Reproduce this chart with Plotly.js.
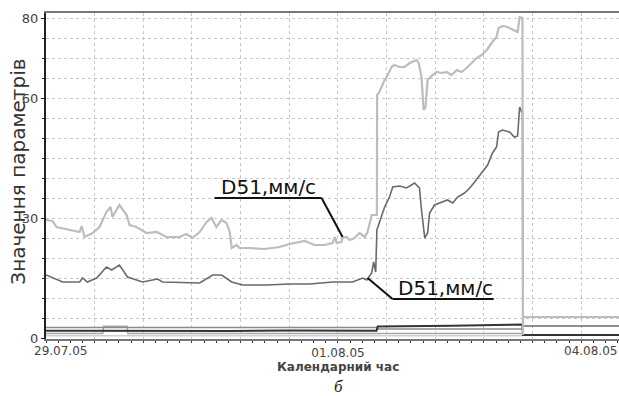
<!DOCTYPE html>
<html>
<head>
<meta charset="utf-8">
<script src="https://cdn.plot.ly/plotly-3.0.1.min.js"></script>
<style>html,body{margin:0;padding:0;background:#fff;overflow:hidden}#chart{width:619px;height:396px}</style>
</head>
<body>
<div id="chart"></div>
<script>
// time in hours since 29.07.05 00:00
const lightT = [0,1.6,2.6,5.8,8.3,8.8,9.5,11.5,13.2,14.9,15.9,16.4,18.1,19.9,20.6,22.3,24.8,27.3,29.7,32.9,34.6,36.1,37.9,39.6,40.8,42.0,43.3,44.5,45.3,45.8,47.0,47.7,50.2,53.9,57.6,60.1,63.8,66.2,68.7,70.7,71.2,71.7,72.9,73.1,74.1,74.9,76.1,77.3,78.6,79.3,80.3,81.3,81.6,81.65,82.1,83.5,84.3,85.2,85.9,87.2,88.4,89.7,90.4,91.4,91.9,92.6,93.1,93.6,94.1,95.3,96.3,97.6,98.8,100.0,101.3,102.5,103.7,105.0,106.2,107.4,108.7,109.9,111.1,111.6,112.6,113.8,115.1,116.3,116.8,117.3,117.5,117.6,117.65,141.3];
const lightV = [29.65,29.4,27.9,27.15,26.65,28.15,25.4,26.4,27.9,31.65,32.9,30.4,33.4,30.9,28.4,27.9,26.4,26.65,25.4,25.4,26.15,25.15,26.65,29.15,30.15,27.9,29.65,28.9,26.65,22.65,23.4,22.65,22.65,22.4,22.9,23.65,24.4,23.4,23.4,23.9,25.4,23.9,24.15,25.15,25.4,24.65,25.15,26.4,25.4,26.65,30.9,30.9,30.9,60.9,61.4,64.65,65.9,67.9,68.4,67.9,67.9,68.9,69.15,69.65,68.9,65.4,57.15,57.9,64.65,65.9,66.65,66.4,66.65,65.9,67.15,66.65,67.65,68.9,70.15,70.9,72.15,73.9,75.4,77.65,78.15,77.9,77.15,76.65,80.4,80.15,80.15,0.9,5.4,5.4];

const darkT = [0,4.1,8.3,9.0,10.2,12.5,14.9,16.2,18.1,20.1,23.8,27.5,28.7,37.9,41.1,43.3,45.8,48.5,54.4,60.1,65.0,70.7,75.6,78.1,79.1,80.3,80.8,81.3,81.6,83.5,84.7,85.5,87.2,88.9,90.9,92.1,92.6,93.4,94.1,94.6,95.8,97.6,99.0,100.3,101.5,103.2,104.5,105.7,107.4,108.9,110.1,111.1,111.6,112.6,114.3,115.5,116.3,116.8,117.3,117.5,117.6,117.65,141.3];
const darkV = [15.9,14.15,14.15,15.15,14.15,15.15,17.9,17.15,18.4,15.4,14.15,14.9,14.15,13.9,15.9,15.9,14.15,13.4,13.4,13.65,13.65,14.15,14.15,15.15,14.65,16.4,19.15,16.65,27.15,32.9,35.4,37.9,38.15,37.65,38.9,37.65,32.15,25.15,26.4,31.4,33.4,34.15,34.65,33.9,35.4,36.4,37.65,39.15,41.4,43.4,46.4,47.9,51.65,52.15,51.65,50.4,50.65,57.9,56.65,56.65,0.9,3.15,3.15];

const base1T = [0,81.5,81.6,117.5];
const base1V = [2.8,2.8,2.4,2.4];
const base2T = [0,4,5,8.5,9,45,60,81.5,81.8,100,117.5,117.6,141.3];
const base2V = [1.95,1.95,2.1,2.1,1.95,1.9,2.0,1.95,3.0,3.2,3.5,0.9,0.9];
const base3T = [0,14,14.2,20,20.2,117.5];
const base3V = [1.25,1.25,3.1,3.1,1.25,1.25];
const base4T = [0,117.5];
const base4V = [0.7,0.7];

const yTickVals = [0,30,60,80];
const yTickText = ['0','30','60','80'];
const dateLabels = ['29.07.05','01.08.05','04.08.05'];
const seriesLabel = 'D51,мм/с';

const START = Date.UTC(2005,6,29);
function hd(h){return new Date(START + h*3600000).toISOString().replace('T',' ').slice(0,19);}
const toD = a => a.map(hd);

const gridTicks = [];
const gridText = [];
for(let h=0; h<=132; h+=12){gridTicks.push(hd(h)); gridText.push(h===72?dateLabels[1]:'');}

const traces = [
  {x:toD(base4T),y:base4V,mode:'lines',line:{color:'#d0d0d0',width:1.5},hoverinfo:'skip'},
  {x:toD(base3T),y:base3V,mode:'lines',line:{color:'#a8a8a8',width:1.5},hoverinfo:'skip'},
  {x:toD(base1T),y:base1V,mode:'lines',line:{color:'#8a8a8a',width:1.5},hoverinfo:'skip'},
  {x:toD(base2T),y:base2V,mode:'lines',line:{color:'#333',width:2},hoverinfo:'skip'},
  {x:toD(darkT),y:darkV,mode:'lines',line:{color:'#6a6a6a',width:1.6},name:'D51 2'},
  {x:toD(lightT),y:lightV,mode:'lines',line:{color:'#bdbdbd',width:2.2},name:'D51 1'}
];

const lc = {color:'#111',width:2};
const layout = {
  width:619,height:396,
  margin:{l:46,r:0,t:13,b:57},
  paper_bgcolor:'#fff',plot_bgcolor:'#fff',
  showlegend:false,
  font:{family:'DejaVu Sans, Arial, sans-serif',color:'#333'},
  xaxis:{
    type:'date',range:[hd(0),hd(141.3)],
    tickmode:'array',tickvals:gridTicks,ticktext:gridText,
    showgrid:true,gridcolor:'#c8c8c8',griddash:'dot',gridwidth:1,
    showline:true,linecolor:'#777',linewidth:2,mirror:true,
    ticks:'outside',ticklen:2,tickcolor:'#333',
    minor:{dtick:3*3600000,ticks:'outside',ticklen:2,tickcolor:'#333',showgrid:false},
    tickfont:{size:12,color:'#444'},
    zeroline:false
  },
  yaxis:{
    range:[-0.1,81.4],
    tickmode:'array',tickvals:yTickVals,ticktext:yTickText,
    showgrid:true,gridcolor:'#c8c8c8',griddash:'dot',gridwidth:1,
    minor:{dtick:5,showgrid:true,gridcolor:'#c8c8c8',griddash:'dot',ticks:'outside',ticklen:2,tickcolor:'#222'},
    showline:true,linecolor:'#222',linewidth:2,
    ticks:'outside',ticklen:3,tickcolor:'#222',
    tickfont:{size:13,color:'#444'},
    zeroline:false
  },
  shapes:[
    {type:'line',xref:'x',yref:'y',x0:hd(41.56),y0:35.15,x1:hd(67.96),y1:35.15,line:lc},
    {type:'line',xref:'x',yref:'y',x0:hd(67.96),y0:35.15,x1:hd(73.14),y1:25.4,line:lc},
    {type:'line',xref:'x',yref:'y',x0:hd(79.3),y0:15.15,x1:hd(85.47),y1:9.9,line:lc},
    {type:'line',xref:'x',yref:'y',x0:hd(85.47),y0:9.9,x1:hd(110.4),y1:9.9,line:lc}
  ],
  annotations:[
    {xref:'paper',yref:'paper',x:-0.049,y:0.513,textangle:-90,xanchor:'center',yanchor:'middle',text:'Значення параметрів',showarrow:false,font:{size:20,color:'#333'}},
    {xref:'paper',yref:'paper',x:0.5096,y:-0.086,xanchor:'center',yanchor:'middle',text:'Календарний час',showarrow:false,font:{size:12,color:'#444',weight:'bold'}},
    {xref:'x',yref:'y',x:hd(54.76),y:37.9,text:seriesLabel,showarrow:false,font:{size:20,color:'#111'}},
    {xref:'x',yref:'y',x:hd(98.4),y:12.65,text:seriesLabel,showarrow:false,font:{size:20,color:'#111'}},
    {xref:'x',yref:'paper',x:hd(0),y:0,xanchor:'left',yanchor:'top',xshift:-14,yshift:-3,text:dateLabels[0],showarrow:false,font:{size:12,color:'#444'}},
    {xref:'paper',yref:'paper',x:1,y:0,xanchor:'right',yanchor:'top',yshift:-3,text:dateLabels[2],showarrow:false,font:{size:12,color:'#444'}},
    {xref:'paper',yref:'paper',x:0.5096,y:-0.147,xanchor:'center',yanchor:'middle',text:'б',showarrow:false,font:{family:'Liberation Serif, serif',size:17,style:'italic',color:'#222'}}
  ]
};
Plotly.newPlot('chart',traces,layout,{staticPlot:true,displayModeBar:false});
</script>
</body>
</html>
